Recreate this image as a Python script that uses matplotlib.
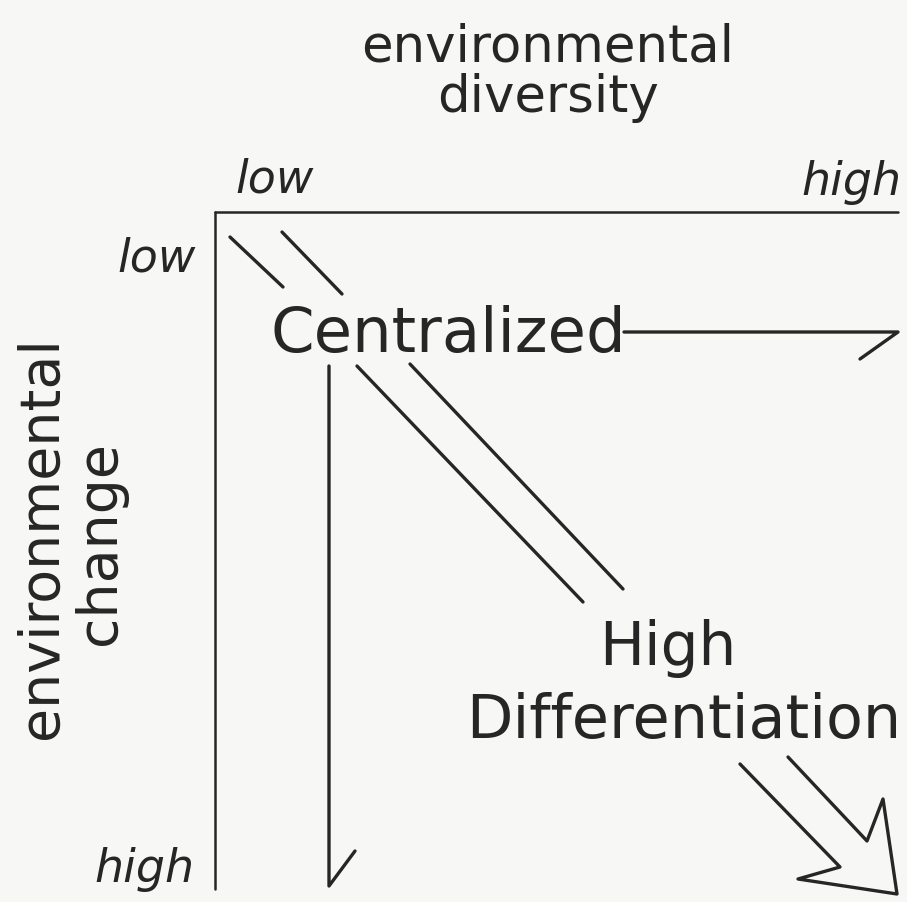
import matplotlib.pyplot as plt

# diagram is drawn in pixel coordinates (x right, y down)
ink = '#262626'

# axis frame
top_axis = [(215, 213), (898, 213)]
left_axis = [(215, 213), (215, 890)]

# stroke paths
short_pair = [[(230, 238), (283, 288)], [(282, 233), (342, 295)]]
diag_pair = [[(357, 367), (583, 603)], [(410, 365), (623, 590)]]
right_arrow = [(624, 333), (898, 333), (860, 360)]
down_arrow = [(329, 367), (329, 887), (355, 852)]
big_arrow = [(740, 765), (840, 868), (798, 880), (897, 895),
             (883, 800), (867, 842), (788, 758)]

# labels: (text, x, y)
top_title = [('environmental', 548, 62), ('diversity', 548, 112)]
side_title = [('environmental', 57, 538), ('change', 115, 543)]
scale_labels = [('low', 275, 193), ('high', 851, 195),
                ('low', 157, 272), ('high', 144, 882)]
states = [('Centralized', 270, 352, 'left', 45),
          ('High', 668, 665, 'center', 43),
          ('Differentiation', 684, 738, 'center', 43.5)]

fig = plt.figure(figsize=(9.07, 9.03), dpi=100, facecolor='#f7f7f5')
ax = fig.add_axes([0, 0, 1, 1])
ax.set_xlim(0, 907)
ax.set_ylim(903, 0)
ax.axis('off')


def stroke(pts, lw=2.4):
    xs, ys = zip(*pts)
    ax.plot(xs, ys, color=ink, lw=lw, solid_capstyle='round',
            solid_joinstyle='round')


stroke(top_axis, lw=1.8)
stroke(left_axis, lw=1.8)
for seg in short_pair + diag_pair:
    stroke(seg)
stroke(right_arrow)
stroke(down_arrow)
stroke(big_arrow)

for t, x, y in top_title:
    ax.text(x, y, t, fontsize=37, color=ink, ha='center', va='baseline')
for t, x, y in side_title:
    ax.text(x, y, t, fontsize=40, color=ink, ha='center', va='baseline',
            rotation=90, rotation_mode='anchor')
for t, x, y in scale_labels:
    ax.text(x, y, t, fontsize=33, color=ink, style='italic',
            ha='center', va='baseline')
for t, x, y, h, fs in states:
    ax.text(x, y, t, fontsize=fs, color=ink, ha=h, va='baseline')

fig.savefig('out.png', dpi=100, facecolor=fig.get_facecolor())
